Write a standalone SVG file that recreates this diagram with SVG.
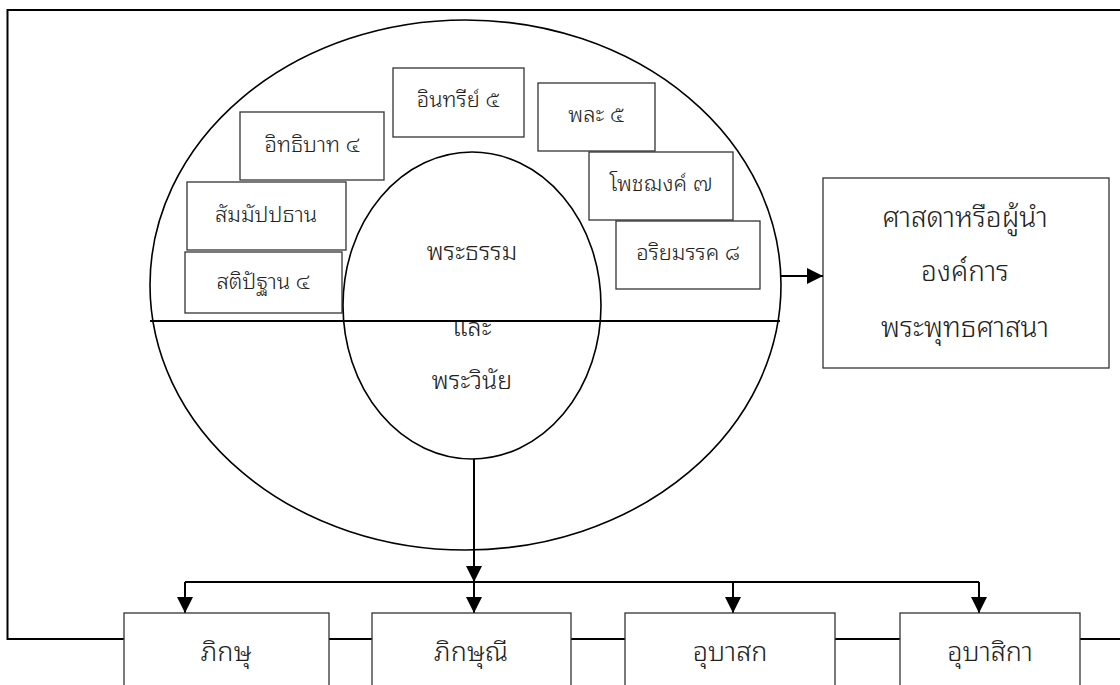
<svg xmlns="http://www.w3.org/2000/svg" width="1120" height="685" viewBox="0 0 1120 685">
<style>
.box{fill:#fff;stroke:#333;stroke-width:1.3}
.t{font-family:"Noto Sans Thai Looped","Tahoma","Leelawadee UI","Loma","Garuda","Noto Sans Thai","DejaVu Sans",sans-serif;font-size:22px;font-weight:300;fill:#222;text-anchor:middle}
.mid{font-size:25px}
.big{font-size:28px}
.bot{font-size:27px}
.ln{fill:none;stroke:#000;stroke-width:2}
.ell{fill:none;stroke:#000;stroke-width:1.6}
</style>
<defs>
<marker id="ah" viewBox="0 0 16 16" refX="16" refY="8" markerWidth="16" markerHeight="16" markerUnits="userSpaceOnUse" orient="auto">
<path d="M0,0 L16,8 L0,16 Z" fill="#000"/>
</marker>
</defs>
<rect width="1120" height="685" fill="#fff"/>
<g id="frame"><path class="ln" d="M1120,10 H7.5 V639 H1120"/></g>
<g id="outer-ellipse"><ellipse class="ell" cx="465.5" cy="285" rx="315.5" ry="265"/><line class="ln" x1="150" y1="321" x2="780" y2="321" stroke-width="1.8"/></g>
<g id="n-itthibat"><rect class="box" x="240" y="112" width="144" height="68"/><text class="t" x="312" y="152">อิทธิบาท ๔</text></g>
<g id="n-sammappadhana"><rect class="box" x="187" y="182" width="159" height="68"/><text class="t" x="266" y="222">สัมมัปปธาน</text></g>
<g id="n-satipatthana"><rect class="box" x="185" y="252" width="157" height="61"/><text class="t" x="263" y="289">สติปัฐาน ๔</text></g>
<g id="n-indriya"><rect class="box" x="393" y="68" width="131" height="69"/><text class="t" x="458" y="107">อินทรีย์ ๕</text></g>
<g id="n-bala"><rect class="box" x="538" y="83" width="117" height="68"/><text class="t" x="596" y="122">พละ ๕</text></g>
<g id="n-bojjhanga"><rect class="box" x="589" y="152" width="144" height="68"/><text class="t" x="661" y="191">โพชฌงค์ ๗</text></g>
<g id="n-magga"><rect class="box" x="616" y="221" width="144" height="68"/><text class="t" x="688" y="260">อริยมรรค ๘</text></g>
<g id="n-dhamma"><ellipse class="ell" cx="472" cy="305.5" rx="129" ry="153.5"/><line class="ln" x1="343" y1="321" x2="601" y2="321" stroke-width="1.8"/><text class="t mid" x="472" y="260">พระธรรม</text><text class="t mid" x="472" y="336">และ</text><text class="t mid" x="472" y="389">พระวินัย</text></g>
<g id="n-leader"><rect class="box" x="823" y="178" width="286" height="190"/><text class="t big" x="965" y="227">ศาสดาหรือผู้นำ</text><text class="t big" x="965" y="281">องค์การ</text><text class="t big" x="965" y="337">พระพุทธศาสนา</text></g>
<g id="connectors">
<line class="ln" x1="781" y1="276" x2="823" y2="276" marker-end="url(#ah)"/>
<line class="ln" x1="474" y1="459" x2="474" y2="582" marker-end="url(#ah)"/>
<path class="ln" d="M185,582 H979"/>
<line class="ln" x1="185" y1="582" x2="185" y2="613" marker-end="url(#ah)"/>
<line class="ln" x1="474" y1="582" x2="474" y2="613" marker-end="url(#ah)"/>
<line class="ln" x1="733" y1="582" x2="733" y2="613" marker-end="url(#ah)"/>
<line class="ln" x1="979" y1="582" x2="979" y2="613" marker-end="url(#ah)"/>
</g>
<g id="n-bhikkhu"><rect class="box" x="124" y="613" width="205" height="80"/><text class="t bot" x="226" y="661">ภิกษุ</text></g>
<g id="n-bhikkhuni"><rect class="box" x="372" y="613" width="199" height="80"/><text class="t bot" x="471" y="661">ภิกษุณี</text></g>
<g id="n-upasaka"><rect class="box" x="625" y="613" width="210" height="80"/><text class="t bot" x="730" y="661">อุบาสก</text></g>
<g id="n-upasika"><rect class="box" x="900" y="613" width="180" height="80"/><text class="t bot" x="990" y="661">อุบาสิกา</text></g>
</svg>
